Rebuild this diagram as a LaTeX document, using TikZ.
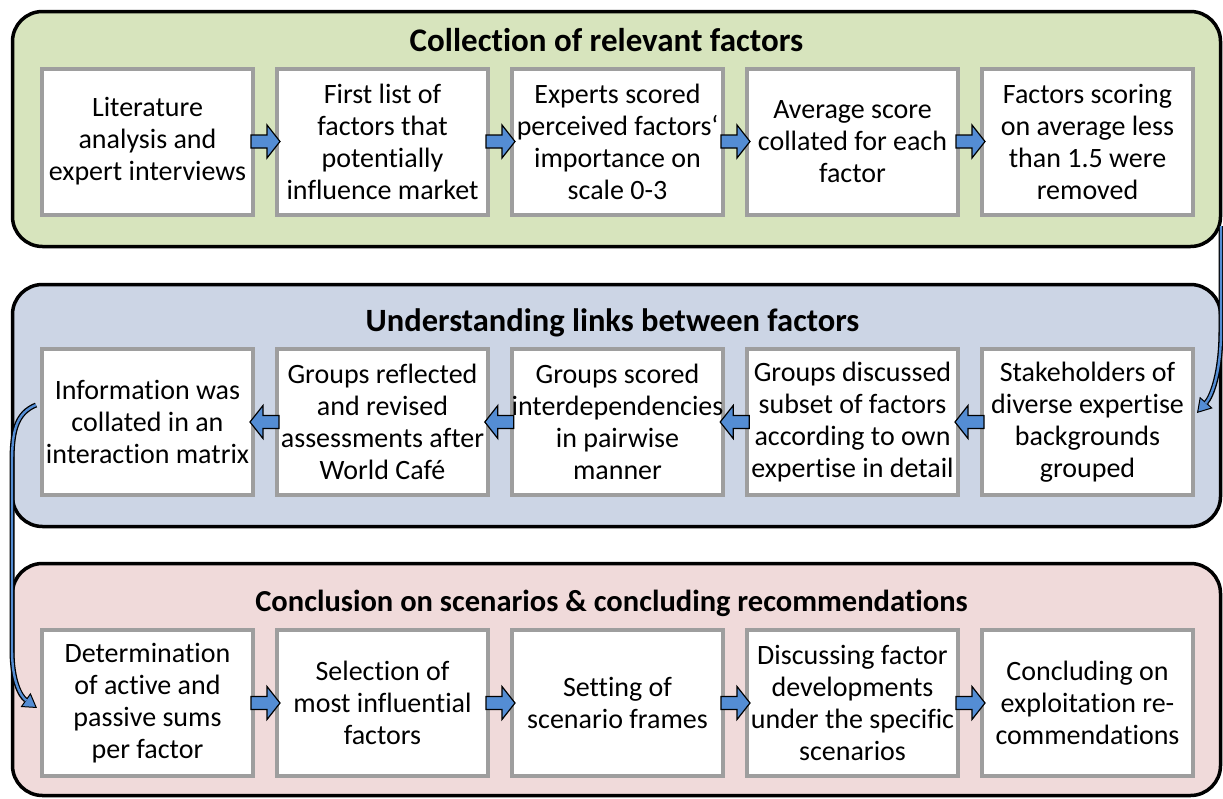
\documentclass[tikz,border=0pt]{standalone}
\usepackage{fontspec}
\setmainfont{Carlito}[Ligatures=NoCommon]
\usetikzlibrary{arrows.meta,calc}
\definecolor{pgreen}{RGB}{215,228,189}
\definecolor{pblue}{RGB}{204,213,229}
\definecolor{ppink}{RGB}{240,218,218}
\definecolor{boxgray}{RGB}{158,158,158}
\definecolor{arrowblue}{RGB}{84,141,212}
\newcommand\stepright[2]{%
  \path ($(#1.east)!0.5!(#2.west)$) coordinate (mid);
  \draw[blockarrow] ([shift={(-14,-6.5)}]mid) -- ++(16,0) -- ++(0,-10) -- ++(13,16.5) -- ++(-13,16.5) -- ++(0,-10) -- ++(-16,0) -- cycle;}
\newcommand\stepleft[2]{%
  \path ($(#1.west)!0.5!(#2.east)$) coordinate (mid);
  \draw[blockarrow] ([shift={(14,-6.5)}]mid) -- ++(-16,0) -- ++(0,-10) -- ++(-13,16.5) -- ++(13,16.5) -- ++(0,-10) -- ++(16,0) -- cycle;}
\begin{document}
\begin{tikzpicture}[x=1pt,y=-1pt,
  panel/.style={draw=black, line width=3.5pt, rounded corners=30pt},
  stepbox/.style={draw=boxgray, line width=4pt, fill=white, minimum width=211pt, minimum height=146pt, inner sep=0pt, align=center, font=\fontsize{28}{32}\selectfont},
  ptitle/.style={font=\fontsize{#1}{36}\selectfont\bfseries},
  blockarrow/.style={draw=black, line width=1.2pt, fill=arrowblue, line join=miter},
  curvebase/.style={draw=black, line width=5pt, -{Triangle[length=14pt, width=17pt, line width=1pt, fill=arrowblue]}},
  curvetop/.style={draw=arrowblue, line width=2.4pt, shorten >=13pt},
]
\path[use as bounding box] (0,0) rectangle (1223,798);

% panels
\draw[panel, fill=pgreen] (12.5,11.5) rectangle (1220.5,246.5);
\draw[panel, fill=pblue] (12.5,284.5) rectangle (1220.5,526.5);
\draw[panel, fill=ppink] (12.5,563.5) rectangle (1220.5,795.5);

\node[ptitle=33] (t1) at (606.5,40) {Collection of relevant factors};
\node[ptitle=32.5] (t2) at (612.5,323) {Understanding links between factors};
\node[ptitle=30.5] (t3) at (611.5,603) {Conclusion on scenarios \& concluding recommendations};

% row 1
\node[stepbox] (b11) at (147.5,141.5) {Literature\\analysis and\\expert interviews};
\node[stepbox] (b12) at (382.5,141.5) {First list of\\factors that\\potentially\\influence market};
\node[stepbox] (b13) at (617.5,141.5) {Experts scored\\perceived factors‘\\importance on\\scale 0-3};
\node[stepbox] (b14) at (852.5,141.5) {Average score\\collated for each\\factor};
\node[stepbox] (b15) at (1087.5,141.5) {Factors scoring\\on average less\\than 1.5 were\\removed};

% row 2
\node[stepbox] (b21) at (147.5,422) {Information was\\collated in an\\interaction matrix};
\node[stepbox] (b22) at (382.5,422) {Groups reflected\\and revised\\assessments after\\World Café};
\node[stepbox] (b23) at (617.5,422) {Groups scored\\interdependencies\\in pairwise\\manner};
\node[stepbox] (b24) at (852.5,422) {Groups discussed\\subset of factors\\according to own\\expertise in detail};
\node[stepbox] (b25) at (1087.5,422) {Stakeholders of\\diverse expertise\\backgrounds\\grouped};

% row 3
\node[stepbox] (b31) at (147.5,703) {Determination\\of active and\\passive sums\\per factor};
\node[stepbox] (b32) at (382.5,703) {Selection of\\most influential\\factors};
\node[stepbox] (b33) at (617.5,703) {Setting of\\scenario frames};
\node[stepbox] (b34) at (852.5,703) {Discussing factor\\developments\\under the specific\\scenarios};
\node[stepbox] (b35) at (1087.5,703) {Concluding on\\exploitation re-\\commendations};

% block arrows
\stepright{b11}{b12}
\stepright{b12}{b13}
\stepright{b13}{b14}
\stepright{b14}{b15}
\stepleft{b25}{b24}
\stepleft{b24}{b23}
\stepleft{b23}{b22}
\stepleft{b22}{b21}
\stepright{b31}{b32}
\stepright{b32}{b33}
\stepright{b33}{b34}
\stepright{b34}{b35}

% curved connectors between panels
\coordinate (ca) at (1221,226);
\coordinate (ea) at ([xshift=2pt,yshift=9pt]b25.east);
\draw[curvebase] (ca) -- (1221,330) .. controls (1221,372) and (1212,396) .. (ea);
\draw[curvetop] (ca) -- (1221,330) .. controls (1221,372) and (1212,396) .. (ea);

\coordinate (cb) at ([xshift=-4pt,yshift=17pt]b21.west);
\coordinate (eb) at ([xshift=-3pt,yshift=-5pt]b31.west);
\draw[curvebase] (cb) .. controls (16,413) and (12,432) .. (12,462) -- (12,650) .. controls (12,680) and (20,696) .. (eb);
\draw[curvetop] (cb) .. controls (16,413) and (12,432) .. (12,462) -- (12,650) .. controls (12,680) and (20,696) .. (eb);
\end{tikzpicture}
\end{document}
